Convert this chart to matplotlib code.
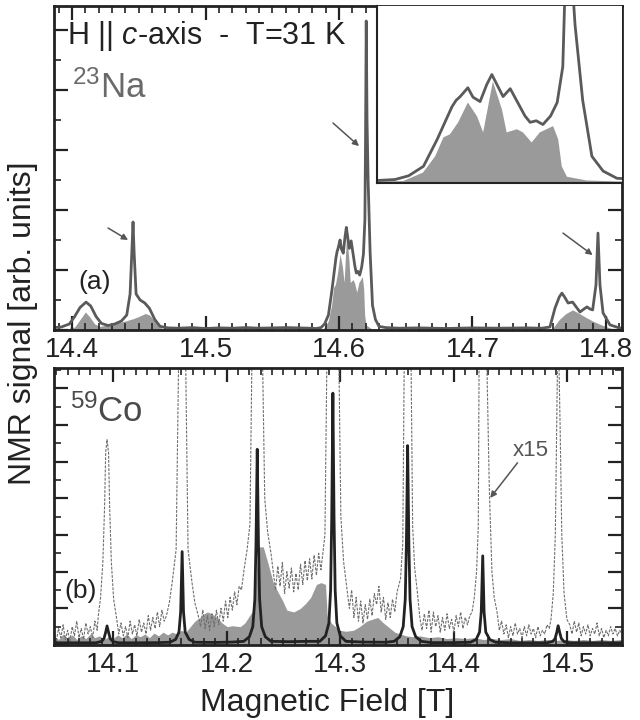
import matplotlib
matplotlib.use("Agg")
import matplotlib.pyplot as plt
from matplotlib.ticker import MultipleLocator, FormatStrFormatter

plt.rcParams['font.family'] = ['Liberation Sans', 'DejaVu Sans']
plt.rcParams['mathtext.fontset'] = 'custom'
plt.rcParams['mathtext.rm'] = 'Liberation Sans'
plt.rcParams['mathtext.it'] = 'Liberation Sans:italic'

# --- 23Na spectrum (top panel) ---
na_field = [14.386, 14.392, 14.398, 14.402, 14.406, 14.4105, 14.414, 14.418, 14.422, 14.427,
            14.432, 14.437, 14.441, 14.4435, 14.445, 14.4457, 14.4465, 14.448, 14.451, 14.4545,
            14.458, 14.462, 14.466, 14.472, 14.48, 14.49, 14.50, 14.51, 14.52, 14.53,
            14.54, 14.55, 14.56, 14.57, 14.578, 14.583, 14.5865, 14.5892, 14.5921, 14.5948,
            14.5963, 14.5977, 14.5985, 14.5993, 14.6000, 14.6008, 14.6018, 14.6032, 14.6045, 14.6055,
            14.6065, 14.6077, 14.6091, 14.6100, 14.6110, 14.6120, 14.6130, 14.6142, 14.6155, 14.6170,
            14.6183, 14.6194, 14.6199, 14.6204, 14.6210, 14.6218, 14.6233, 14.6251, 14.6273, 14.630,
            14.635, 14.645, 14.66, 14.68, 14.70, 14.72, 14.74, 14.752, 14.758, 14.7618,
            14.765, 14.767, 14.769, 14.7716, 14.775, 14.778, 14.7805, 14.7835, 14.7858, 14.788,
            14.790, 14.7925, 14.794, 14.7955, 14.7978, 14.803, 14.81, 14.815]
na_dark = [0.08, 0.10, 0.20, 0.45, 0.75, 0.93, 0.80, 0.45, 0.22, 0.15,
           0.20, 0.30, 0.50, 1.20, 2.80, 3.60, 2.60, 1.20, 1.00, 0.90,
           0.72, 0.35, 0.12, 0.07, 0.06, 0.08, 0.05, 0.07, 0.06, 0.08,
           0.06, 0.07, 0.08, 0.07, 0.06, 0.05, 0.08, 0.20, 0.50, 1.36,
           1.90, 2.40, 2.60, 2.72, 2.85, 3.00, 2.70, 2.56, 3.10, 3.42,
           3.10, 2.72, 2.97, 2.70, 2.40, 2.10, 1.90, 1.95, 1.83, 2.10,
           2.53, 3.67, 6.50, 10.3, 7.00, 5.00, 2.60, 0.82, 0.35, 0.12,
           0.08, 0.06, 0.07, 0.05, 0.07, 0.06, 0.07, 0.06, 0.10, 0.73,
           1.10, 1.23, 1.10, 0.90, 0.93, 0.75, 0.60, 0.70, 0.77, 0.70,
           0.67, 1.50, 3.23, 1.50, 0.57, 0.17, 0.07, 0.06]

na_fill_field = [14.386, 14.395, 14.402, 14.406, 14.410, 14.413, 14.417, 14.421, 14.43, 14.44,
                 14.446, 14.45, 14.455, 14.458, 14.462, 14.466, 14.47, 14.58, 14.5881, 14.5920,
                 14.5944, 14.5960, 14.5973, 14.5989, 14.6008, 14.6026, 14.6038, 14.6057, 14.6075, 14.6084,
                 14.6104, 14.6116, 14.6133, 14.6149, 14.6175, 14.6185, 14.6192, 14.6202, 14.6241, 14.63,
                 14.755, 14.760, 14.765, 14.770, 14.775, 14.78, 14.785, 14.79, 14.795, 14.8007,
                 14.806, 14.815]
na_fill = [0.02, 0.03, 0.10, 0.35, 0.60, 0.45, 0.20, 0.12, 0.20, 0.30,
           0.38, 0.45, 0.55, 0.50, 0.30, 0.08, 0.03, 0.02, 0.03, 0.30,
           0.82, 1.42, 1.52, 1.90, 2.53, 2.09, 1.58, 3.20, 2.30, 1.58,
           1.68, 1.58, 1.26, 1.58, 1.78, 1.36, 0.50, 0.17, 0.05, 0.02,
           0.02, 0.05, 0.35, 0.55, 0.67, 0.55, 0.42, 0.30, 0.20, 0.10,
           0.02, 0.02]

# --- 59Co spectrum (bottom panel) ---
co_solid_field = [14.048, 14.07, 14.085, 14.090, 14.092, 14.0935, 14.0947, 14.096, 14.0975, 14.100,
                  14.105, 14.12, 14.14, 14.150, 14.155, 14.158, 14.1595, 14.1608, 14.162, 14.1635,
                  14.167, 14.172, 14.19, 14.205, 14.215, 14.220, 14.223, 14.2248, 14.2258, 14.2269,
                  14.228, 14.229, 14.2308, 14.234, 14.239, 14.255, 14.27, 14.282, 14.287, 14.290,
                  14.2915, 14.2925, 14.2935, 14.2945, 14.2955, 14.297, 14.300, 14.305, 14.32, 14.34,
                  14.3474, 14.3524, 14.3554, 14.3572, 14.3582, 14.3593, 14.3604, 14.3614, 14.3632, 14.3664,
                  14.3714, 14.38, 14.40, 14.4146, 14.4196, 14.4226, 14.4241, 14.4254, 14.4266, 14.4281,
                  14.4316, 14.4366, 14.45, 14.47, 14.4821, 14.4871, 14.4891, 14.4906, 14.4918, 14.4931,
                  14.4946, 14.4971, 14.5021, 14.52, 14.548]
co_solid = [0.12, 0.12, 0.12, 0.20, 0.35, 0.70, 1.04, 0.70, 0.35, 0.18,
            0.12, 0.12, 0.13, 0.15, 0.30, 0.70, 1.80, 5.09, 1.80, 0.70,
            0.30, 0.15, 0.14, 0.16, 0.20, 0.45, 1.00, 2.50, 5.50, 10.67,
            5.50, 2.50, 1.00, 0.45, 0.20, 0.18, 0.20, 0.20, 0.50, 1.20,
            3.00, 7.00, 13.73, 7.00, 3.00, 1.20, 0.50, 0.20, 0.16, 0.15,
            0.20, 0.45, 1.00, 2.50, 5.50, 10.87, 5.50, 2.50, 1.00, 0.45,
            0.20, 0.13, 0.13, 0.15, 0.30, 0.70, 1.80, 4.86, 1.80, 0.70,
            0.30, 0.15, 0.12, 0.12, 0.12, 0.20, 0.35, 0.70, 1.05, 0.70,
            0.35, 0.18, 0.12, 0.12, 0.12]

# x15 trace (dashed); one row per stretch: noise, peak, noise, peak ...
co_dash_field = [
    14.048, 14.050, 14.052, 14.054, 14.056, 14.058, 14.060, 14.062, 14.064, 14.066,
    14.068, 14.070, 14.072, 14.074, 14.076, 14.078, 14.080, 14.082, 14.084, 14.086,
    14.087, 14.089, 14.091, 14.0925, 14.0935, 14.0947, 14.096, 14.097, 14.0985, 14.1005, 14.103,
    14.105, 14.107, 14.109, 14.111, 14.113, 14.115, 14.117, 14.119, 14.121, 14.123,
    14.125, 14.127, 14.129, 14.131, 14.133, 14.135, 14.137, 14.139, 14.141, 14.143, 14.145,
    14.147, 14.1495, 14.152, 14.1555, 14.1578, 14.1608, 14.1638, 14.166, 14.1695, 14.172, 14.175,
    14.177, 14.179, 14.181, 14.183, 14.185, 14.187, 14.189, 14.191, 14.193, 14.195,
    14.197, 14.199, 14.201, 14.203, 14.205, 14.207, 14.209, 14.211,
    14.213, 14.2155, 14.218, 14.2205, 14.2222, 14.2269, 14.2316, 14.2335, 14.236, 14.239,
    14.241, 14.243, 14.245, 14.247, 14.249, 14.251, 14.253, 14.255, 14.257, 14.259,
    14.261, 14.263, 14.265, 14.267, 14.269, 14.271, 14.273, 14.275, 14.277, 14.279,
    14.281, 14.283, 14.285,
    14.2865, 14.2882, 14.2935, 14.2988, 14.3005, 14.303, 14.306,
    14.308, 14.310, 14.312, 14.314, 14.316, 14.318, 14.320, 14.322, 14.324, 14.326,
    14.328, 14.330, 14.332, 14.334, 14.336, 14.338, 14.340, 14.342, 14.344, 14.346,
    14.348, 14.350,
    14.353, 14.355, 14.3563, 14.3593, 14.3623, 14.3637, 14.3655, 14.368,
    14.370, 14.372, 14.374, 14.376, 14.378, 14.380, 14.382, 14.384, 14.386, 14.388,
    14.390, 14.392, 14.394, 14.396, 14.398, 14.400, 14.402, 14.404, 14.406, 14.408,
    14.410, 14.412, 14.414,
    14.416, 14.418, 14.420, 14.4215, 14.4222, 14.4254, 14.4290, 14.4312, 14.4335, 14.4355, 14.438,
    14.440, 14.442, 14.444, 14.446, 14.448, 14.450, 14.452, 14.454, 14.456, 14.458,
    14.460, 14.462, 14.464, 14.466, 14.468, 14.470, 14.472, 14.474, 14.476, 14.478,
    14.480, 14.482, 14.484,
    14.4855, 14.4875, 14.4893, 14.4905, 14.4912, 14.4918, 14.4925, 14.4935, 14.495, 14.497, 14.4995,
    14.502, 14.504, 14.506, 14.508, 14.510, 14.512, 14.514, 14.516, 14.518, 14.520,
    14.522, 14.524, 14.526, 14.528, 14.530, 14.532, 14.534, 14.536, 14.538, 14.540,
    14.542, 14.544, 14.546, 14.548]
co_dash = [
    0.6, 0.2, 0.9, 0.4, 1.1, 0.3, 0.8, 0.2, 1.0, 0.5,
    1.3, 0.4, 0.9, 0.3, 1.2, 0.6, 1.0, 0.4, 1.3, 0.8,
    1.6, 2.6, 4.5, 7.5, 10.5, 11.2, 10.5, 7.5, 4.5, 2.5, 1.5,
    0.6, 1.2, 0.5, 1.0, 0.4, 1.3, 0.6, 1.1, 0.5, 1.4,
    0.7, 1.2, 0.6, 1.6, 0.8, 1.5, 0.9, 1.8, 1.0, 1.9, 1.3,
    1.6, 2.3, 3.4, 5.2, 16.0, 76.0, 16.0, 5.2, 3.4, 2.3, 1.6,
    1.0, 1.9, 0.9, 1.6, 0.8, 1.7, 1.0, 1.9, 1.1, 2.0,
    1.3, 2.4, 1.5, 2.6, 1.9, 2.9, 2.2, 3.2,
    3.0, 4.2, 5.2, 6.6, 15.5, 160.0, 15.5, 8.0, 6.2, 5.0,
    4.0, 3.0, 4.3, 3.2, 4.5, 2.8, 4.0, 3.1, 4.2, 2.9,
    3.9, 3.0, 4.4, 3.3, 4.6, 3.5, 4.7, 3.6, 4.9, 3.8,
    5.0, 4.1, 5.2,
    6.0, 15.5, 205.0, 15.5, 7.0, 4.5, 3.0,
    2.0, 3.0, 1.5, 2.6, 1.3, 2.4, 1.2, 2.2, 1.4, 2.5,
    1.6, 2.8, 2.2, 3.2, 1.8, 2.6, 1.4, 2.3, 1.5, 2.5,
    1.8, 2.9,
    3.6, 5.5, 15.5, 163.0, 15.5, 6.5, 4.2, 2.8,
    1.5, 0.8, 1.7, 0.9, 1.9, 0.7, 1.8, 1.0, 1.6, 0.7,
    1.5, 0.8, 1.7, 0.9, 1.4, 0.7, 1.6, 1.0, 1.8, 0.9,
    1.5, 1.1, 1.6,
    1.8, 2.6, 4.0, 6.5, 15.5, 73.0, 15.5, 8.5, 4.0, 2.6, 1.8,
    0.8, 1.3, 0.6, 1.1, 0.4, 1.0, 0.5, 1.2, 0.6, 0.9,
    0.4, 1.0, 0.5, 1.1, 0.6, 0.9, 0.4, 1.0, 0.5, 0.8,
    0.6, 1.1, 0.9,
    1.4, 2.8, 6.0, 12.0, 15.3, 15.7, 15.3, 12.0, 6.0, 2.8, 1.4,
    1.1, 0.6, 1.3, 0.7, 1.2, 0.5, 1.0, 0.6, 1.1, 0.5,
    0.9, 0.6, 1.2, 0.5, 0.9, 0.4, 0.8, 0.5, 1.0, 0.6,
    0.9, 0.5, 0.8, 0.6]

co_fill_field = [14.048, 14.052, 14.056, 14.060, 14.064, 14.068, 14.072, 14.076, 14.080, 14.084,
                 14.088, 14.092, 14.096, 14.100, 14.104, 14.108, 14.112, 14.116, 14.120, 14.124,
                 14.128, 14.132, 14.136, 14.140, 14.144, 14.148, 14.152, 14.156, 14.160, 14.164,
                 14.168, 14.172, 14.1767, 14.180, 14.183, 14.187, 14.1916, 14.196, 14.2004, 14.205,
                 14.2119, 14.216, 14.2233, 14.2255, 14.2278, 14.2322, 14.2366, 14.241, 14.245, 14.249,
                 14.253, 14.259, 14.265, 14.270, 14.274, 14.279, 14.283, 14.287, 14.2885, 14.292,
                 14.2996, 14.305, 14.3115, 14.317, 14.3233, 14.328, 14.333, 14.338, 14.344, 14.348,
                 14.353, 14.358, 14.364, 14.37, 14.378, 14.386, 14.394, 14.402, 14.41, 14.418,
                 14.426, 14.434, 14.442, 14.45, 14.458, 14.466, 14.474, 14.482, 14.49, 14.498,
                 14.506, 14.514, 14.522, 14.53, 14.538, 14.548]
co_fill = [0.50, 0.30, 0.60, 0.35, 0.55, 0.30, 0.50, 0.35, 0.60, 0.40,
           0.50, 0.30, 0.45, 0.35, 0.55, 0.40, 0.60, 0.35, 0.55, 0.45,
           0.60, 0.40, 0.65, 0.50, 0.70, 0.55, 0.70, 0.60, 0.80, 0.70,
           1.00, 1.30, 1.50, 1.70, 1.80, 1.70, 1.50, 1.20, 1.00, 1.05,
           1.00, 1.20, 1.90, 3.50, 5.35, 5.35, 4.40, 3.40, 2.90, 2.45,
           1.90, 1.80, 2.00, 2.30, 2.60, 3.30, 3.40, 3.30, 1.60, 1.20,
           0.80, 0.75, 0.80, 1.00, 1.30, 1.40, 1.50, 1.20, 0.90, 0.70,
           0.60, 0.50, 0.45, 0.50, 0.40, 0.45, 0.35, 0.40, 0.35, 0.40,
           0.30, 0.35, 0.30, 0.35, 0.25, 0.30, 0.25, 0.30, 0.25, 0.30,
           0.25, 0.30, 0.25, 0.30, 0.25, 0.30]

dark = '#222222'
line_gray = '#5a5a5a'
fill_gray = '#9a9a9a'


def style_axes(ax, ylim, xlim):
    ax.set_xlim(*xlim)
    ax.set_ylim(*ylim)
    ax.xaxis.set_major_locator(MultipleLocator(0.1))
    ax.xaxis.set_minor_locator(MultipleLocator(0.01))
    ax.yaxis.set_major_locator(MultipleLocator(2))
    ax.yaxis.set_minor_locator(MultipleLocator(1))
    ax.xaxis.set_major_formatter(FormatStrFormatter('%.1f'))
    ax.set_yticklabels([])
    ax.tick_params(which='both', direction='in', top=True, right=True, color=dark)
    ax.tick_params(which='major', length=10, width=1.6, labelsize=20, pad=5, labelcolor=dark)
    ax.tick_params(which='minor', length=5, width=1.2)
    for s in ax.spines.values():
        s.set_linewidth(2.0)
        s.set_color(dark)


fig = plt.figure(figsize=(6.4, 7.2), dpi=100)

# ---------------- top panel: 23Na ----------------
ax1 = fig.add_axes([54 / 640, 1 - 330 / 720, 568 / 640, 324 / 720])
ax1.fill_between(na_fill_field, 0, na_fill, color=fill_gray, lw=0)
ax1.plot(na_field, na_dark, color=line_gray, lw=2.0)
style_axes(ax1, (0, 10.8), (14.3865, 14.812))

arrow_kw = dict(arrowstyle='-|>', color='#555555', lw=1.1, mutation_scale=9, shrinkA=0, shrinkB=0)
ax1.annotate('', xy=(14.442, 3.0), xytext=(14.427, 3.4), arrowprops=arrow_kw)
ax1.annotate('', xy=(14.615, 6.13), xytext=(14.5955, 6.9), arrowprops=arrow_kw)
ax1.annotate('', xy=(14.790, 2.5), xytext=(14.7678, 3.23), arrowprops=arrow_kw)

ax1.text(0.023, 0.96, r'H || $c$-axis  -  T=31 K', transform=ax1.transAxes,
         fontsize=22, color=dark, va='top', ha='left')
fig.text(72 / 640, 1 - 98 / 720, r'$^{23}$Na', fontsize=25, color='#6a6a6a',
         va='baseline', ha='left')
fig.text(95 / 640, 1 - 282 / 720, '(a)', fontsize=19, color=dark, va='center', ha='center')

# inset: zoom on the central Na group
axi = fig.add_axes([377 / 640, 1 - 183 / 720, 245 / 640, 177 / 720])
axi.fill_between(na_fill_field, 0, na_fill, color=fill_gray, lw=0)
axi.plot(na_field, na_dark, color=line_gray, lw=2.0)
axi.set_xlim(14.583, 14.631)
axi.set_ylim(-0.03, 5.6)
axi.set_xticks([])
axi.set_yticks([])
for side in ['top', 'right']:
    axi.spines[side].set_visible(False)
for side in ['left', 'bottom']:
    axi.spines[side].set_linewidth(1.5)
    axi.spines[side].set_color(dark)

# ---------------- bottom panel: 59Co ----------------
ax2 = fig.add_axes([54 / 640, 1 - 645 / 720, 568 / 640, 277 / 720])
ax2.fill_between(co_fill_field, 0, co_fill, color=fill_gray, lw=0)
ax2.plot(co_dash_field, co_dash, color='#6e6e6e', lw=0.8, ls=(0, (2.5, 1.2)))
ax2.plot(co_solid_field, co_solid, color=dark, lw=2.0)
style_axes(ax2, (0, 15.1), (14.048, 14.548))

fig.text(70 / 640, 1 - 422 / 720, r'$^{59}$Co', fontsize=25, color='#4a4a4a',
         va='baseline', ha='left')
fig.text(81 / 640, 1 - 591 / 720, '(b)', fontsize=19, color=dark, va='center', ha='center')
ax2.text(14.4674, 10.6, 'x15', fontsize=16, color='#555555', ha='center', va='center')
ax2.annotate('', xy=(14.432, 8.02), xytext=(14.456, 9.93), arrowprops=arrow_kw)

fig.text(327 / 640, 1 - 703 / 720, 'Magnetic Field [T]', fontsize=23, color=dark,
         ha='center', va='center')
fig.text(23 / 640, 1 - 323 / 720, 'NMR signal [arb. units]', fontsize=23, color=dark,
         rotation=90, ha='center', va='center')

fig.savefig('out.png', dpi=100)
